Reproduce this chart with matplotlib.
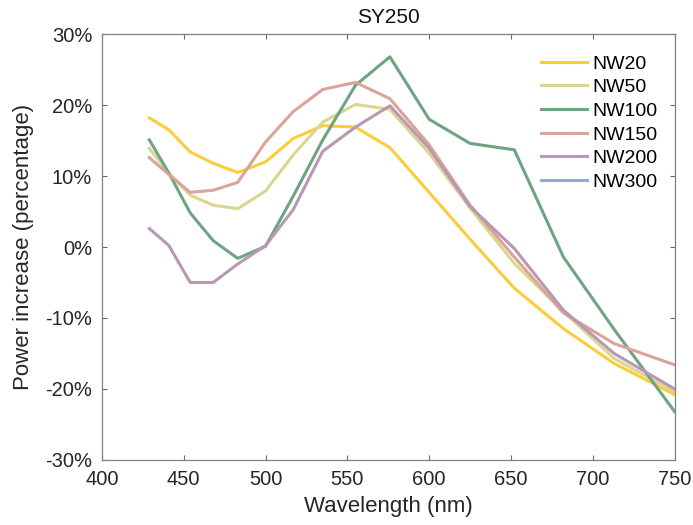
import numpy as np
import matplotlib
matplotlib.use('Agg')
import matplotlib.pyplot as plt
from matplotlib.ticker import FuncFormatter

plt.rcParams['font.family'] = ['Liberation Sans', 'DejaVu Sans']

wavelength = [429, 441, 454, 468, 483, 500, 517, 535, 555, 576, 600, 625, 652, 682, 713, 750]

nw20 = [18.2, 16.5, 13.4, 11.8, 10.5, 12.0, 15.3, 17.1, 16.9, 14.0, 7.7, 1.1, -5.8, -11.5, -16.4, -20.8]
nw50 = [13.9, 10.4, 7.3, 5.9, 5.4, 7.9, 13.0, 17.6, 20.1, 19.4, 13.2, 5.5, -2.3, -9.1, -15.7, -20.4]
nw100 = [15.1, 10.4, 4.8, 0.9, -1.6, 0.1, 7.2, 15.1, 22.8, 26.8, 18.0, 14.6, 13.7, -1.4, -11.6, -23.2]
nw150 = [12.6, 10.2, 7.7, 8.0, 9.1, 14.8, 19.1, 22.2, 23.2, 20.9, 14.4, 5.9, -1.4, -9.3, -13.6, -16.6]
nw200 = [2.6, 0.2, -5.0, -5.0, -2.4, 0.2, 5.3, 13.5, 16.9, 19.9, 13.9, 5.7, -0.2, -8.9, -15.0, -20.0]
nw300 = []  # no data visible, legend entry only

series = [('NW20', nw20, '#FDCC3A'),
          ('NW50', nw50, '#DAD68F'),
          ('NW100', nw100, '#6FA482'),
          ('NW150', nw150, '#DBA49B'),
          ('NW200', nw200, '#B898B2'),
          ('NW300', nw300, '#8FAAD8')]

fig = plt.figure(figsize=(6.93, 5.25), dpi=100)
ax = fig.add_axes([0.147, 0.124, 0.8265, 0.811])

for name, vals, col in series:
    ax.plot(wavelength[:len(vals)], vals, color=col, linewidth=2.2, label=name)

ax.set_xlim(400, 750)
ax.set_ylim(-30, 30)
ax.set_xticks(np.arange(400, 751, 50))
ax.set_yticks(np.arange(-30, 31, 10))
ax.yaxis.set_major_formatter(FuncFormatter(lambda v, p: '%d%%' % v))
ax.tick_params(direction='in', top=True, right=True, labelsize=14.5,
               color='#666666', labelcolor='#262626', length=3.8, width=0.8)
ax.tick_params(axis='y', pad=7)
ax.tick_params(axis='x', pad=7)
for s in ax.spines.values():
    s.set_color('#808080')
    s.set_linewidth(0.9)

ax.set_xlabel('Wavelength (nm)', fontsize=16, color='#262626', labelpad=5)
ax.set_ylabel('Power increase (percentage)', fontsize=16, color='#262626', labelpad=8)
ax.set_title('SY250', fontsize=15, color='#111111', pad=8)

ax.legend(loc='upper left', frameon=False, fontsize=14, handlelength=2.35,
          labelspacing=0.31, handletextpad=0.3, borderpad=0, borderaxespad=0,
          bbox_to_anchor=(0.767, 0.951))

plt.savefig('out.png', dpi=100)
